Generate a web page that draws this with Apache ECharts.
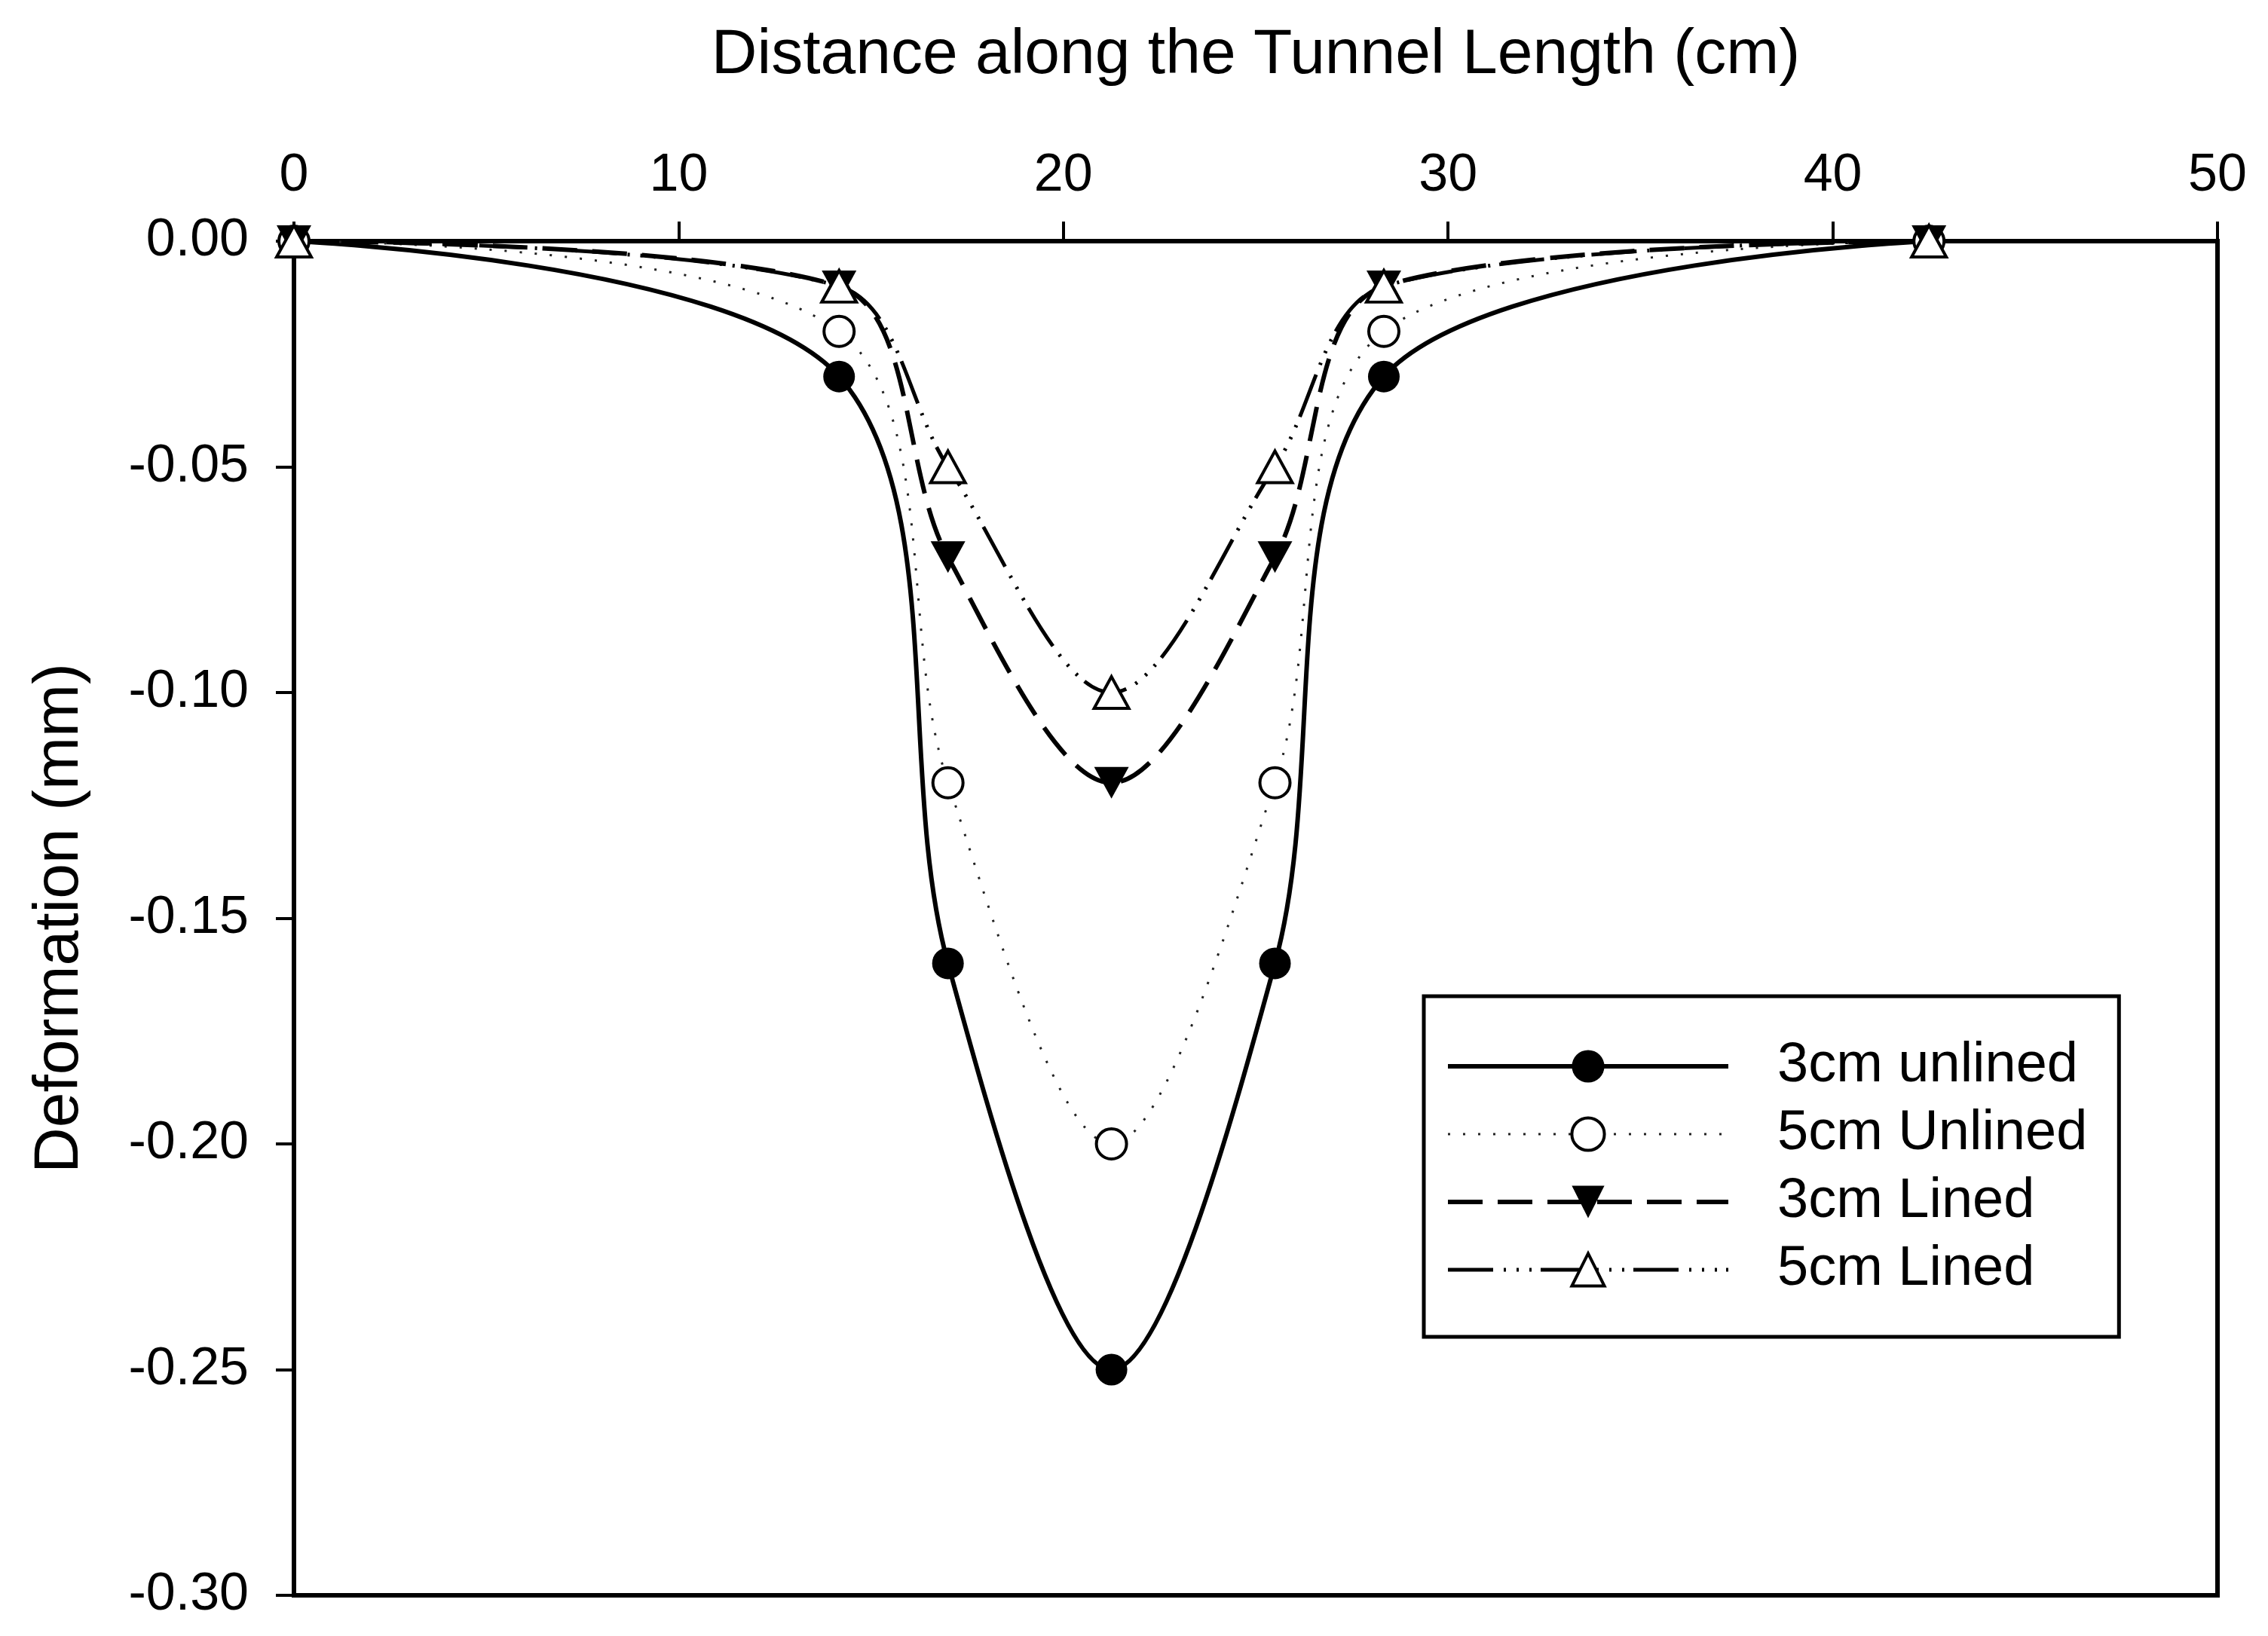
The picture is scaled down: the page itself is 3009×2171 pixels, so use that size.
<!DOCTYPE html>
<html>
<head>
<meta charset="utf-8">
<script src="https://cdn.jsdelivr.net/npm/echarts@6/dist/echarts.min.js"></script>
<style>
html,body{margin:0;padding:0;background:#fff;}
#chart{width:3009px;height:2171px;}
</style>
</head>
<body>
<div id="chart"></div>
<script>
const distance = [0, 14.17, 17, 21.25, 25.5, 28.33, 42.5];
const unlined3 = [0, -0.03, -0.16, -0.25, -0.16, -0.03, 0];
const unlined5 = [0, -0.02, -0.12, -0.20, -0.12, -0.02, 0];
const lined3 = [0, -0.01, -0.07, -0.12, -0.07, -0.01, 0];
const lined5 = [0, -0.01, -0.05, -0.10, -0.05, -0.01, 0];
const seriesNames = ['3cm unlined', '5cm Unlined', '3cm Lined', '5cm Lined'];
const xTicks = [0, 10, 20, 30, 40, 50];
const yTicks = [0, -0.05, -0.10, -0.15, -0.20, -0.25, -0.30];

const pair = (ys) => distance.map((x, i) => [x, ys[i]]);
const FONT = 'Liberation Sans';
const SMOOTH = 0.33;

const chart = echarts.init(document.getElementById('chart'), null, {renderer: 'canvas'});
chart.setOption({
  animation: false,
  backgroundColor: '#fff',
  textStyle: {fontFamily: FONT, color: '#000'},
  grid: {left: 390, right: 67, top: 320, bottom: 54, show: true, borderColor: '#000', borderWidth: 6, backgroundColor: 'transparent'},
  legend: {
    orient: 'vertical',
    left: 1889, top: 1322,
    padding: [56, 42, 52, 29],
    itemWidth: 372, itemHeight: 54, itemGap: 16,
    borderColor: '#000', borderWidth: 5, backgroundColor: '#fff',
    lineStyle: {width: 6},
    itemStyle: {borderWidth: 4},
    data: [
      {name: seriesNames[0], itemStyle: {borderWidth: 0}},
      {name: seriesNames[1], lineStyle: {width: 3}},
      {name: seriesNames[2], itemStyle: {borderWidth: 0}},
      {name: seriesNames[3], lineStyle: {width: 5}}
    ],
    textStyle: {fontFamily: FONT, fontSize: 74, color: '#000', padding: [0, 0, 0, 60]},
    selectedMode: false
  },
  xAxis: {
    type: 'value', position: 'top',
    min: xTicks[0], max: xTicks[xTicks.length - 1], interval: 10,
    name: 'Distance along the Tunnel Length (cm)', nameLocation: 'middle', nameGap: 204,
    nameTextStyle: {fontFamily: FONT, fontSize: 84, color: '#000'},
    axisLine: {show: true, lineStyle: {color: '#000', width: 6}},
    axisTick: {show: true, inside: false, length: 26, lineStyle: {color: '#000', width: 4}},
    axisLabel: {fontFamily: FONT, fontSize: 70, color: '#000', margin: 51},
    splitLine: {show: false}
  },
  yAxis: {
    type: 'value',
    min: yTicks[yTicks.length - 1], max: yTicks[0], interval: 0.05,
    name: 'Deformation (mm)', nameLocation: 'middle', nameGap: 268, nameRotate: 90,
    nameTextStyle: {fontFamily: FONT, fontSize: 84, color: '#000'},
    axisLine: {show: true, lineStyle: {color: '#000', width: 6}},
    axisTick: {show: true, inside: false, length: 24, lineStyle: {color: '#000', width: 4}},
    axisLabel: {fontFamily: FONT, fontSize: 70, color: '#000', margin: 60, formatter: v => v.toFixed(2)},
    splitLine: {show: false}
  },
  series: [
    {
      name: seriesNames[0], type: 'line', data: pair(unlined3), smooth: SMOOTH, clip: false,
      symbol: 'circle', symbolSize: 42,
      lineStyle: {color: '#000', width: 6, type: 'solid'},
      itemStyle: {color: '#000', borderColor: '#000', borderWidth: 0}
    },
    {
      name: seriesNames[1], type: 'line', data: pair(unlined5), smooth: SMOOTH, clip: false,
      symbol: 'circle', symbolSize: 40,
      lineStyle: {color: '#222', width: 3, type: [3, 17]},
      itemStyle: {color: '#fff', borderColor: '#000', borderWidth: 4}
    },
    {
      name: seriesNames[2], type: 'line', data: pair(lined3), smooth: SMOOTH, clip: false,
      symbol: 'path://M0,0 L10,0 L5,9 Z', symbolSize: [46, 42],
      lineStyle: {color: '#000', width: 6, type: [46, 20]},
      itemStyle: {color: '#000', borderColor: '#000', borderWidth: 0}
    },
    {
      name: seriesNames[3], type: 'line', data: pair(lined5), smooth: SMOOTH, clip: false,
      symbol: 'path://M5,0 L10,9 L0,9 Z', symbolSize: [46, 42],
      lineStyle: {color: '#000', width: 5, type: [60, 14, 3, 14, 3, 14, 3, 12]},
      itemStyle: {color: '#fff', borderColor: '#000', borderWidth: 4}
    }
  ]
});
</script>
</body>
</html>
